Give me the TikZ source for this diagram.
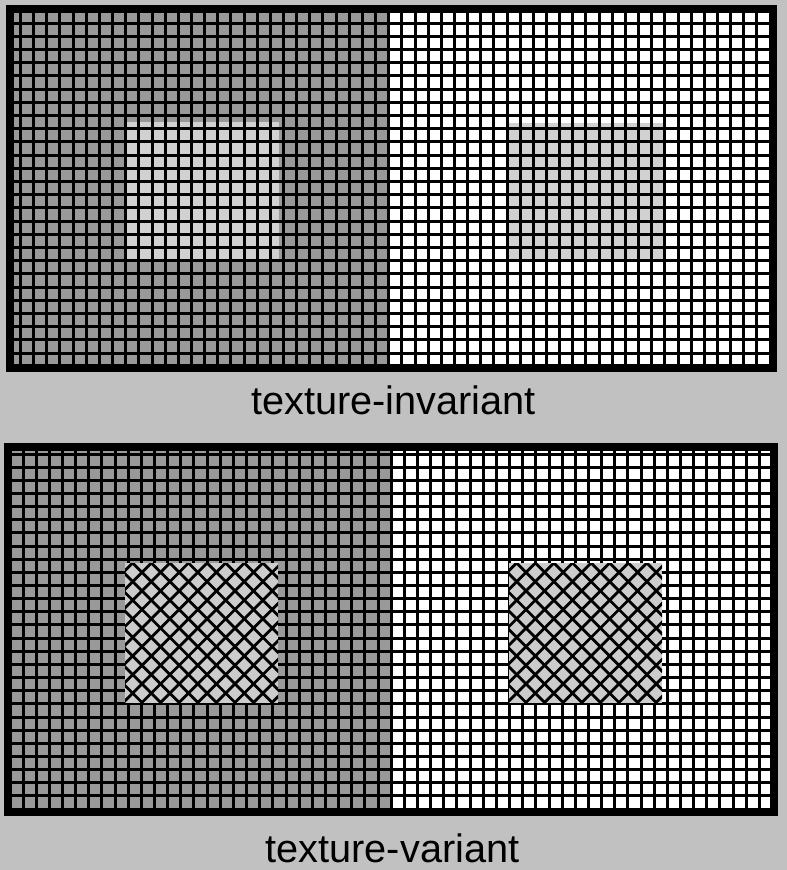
\documentclass[tikz,border=0pt]{standalone}
\usepackage{fontspec}
\setmainfont{Liberation Sans}
\definecolor{bg}{gray}{0.757}
\definecolor{dark}{gray}{0.6}
\definecolor{light}{gray}{0.82}
\definecolor{hatchfill}{gray}{0.8}
\begin{document}
\begin{tikzpicture}[x=1pt,y=-1pt,
  gridline/.style={black,line width=3pt},
  hatchline/.style={black,line width=2.8pt},
  frame/.style={black,line width=8pt},
  caption/.style={font=\fontsize{39.7}{46}\selectfont, inner sep=0pt, anchor=base}]
\useasboundingbox (0,0) rectangle (787,870);
\fill[bg] (0,0) rectangle (787,870);

% ---------- top panel ----------
\fill[dark] (10,9) rectangle (389,368);
\fill[white] (389,9) rectangle (773,368);
\fill[light] (127,122) rectangle (279,261);
\fill[light] (508,123) rectangle (663,259);
\begin{scope}
  \clip (10,9) rectangle (773,368);
  \foreach \i in {0,...,56} \draw[gridline] ({20.5+13.15*\i},0) -- ({20.5+13.15*\i},380);
  \foreach \j in {0,...,25} \draw[gridline] (0,{23+13.2*\j}) -- (787,{23+13.2*\j});
\end{scope}
\draw[frame] (10,9) rectangle (773,368);
\node[caption] (topcap) at (393.4,414) {texture-invariant};

% ---------- bottom panel ----------
\fill[dark] (8,447) rectangle (390,812);
\fill[white] (390,447) rectangle (774,812);
\begin{scope}
  \clip (8,447) rectangle (774,812);
  \foreach \i in {0,...,56} \draw[gridline] ({23+13.15*\i},440) -- ({23+13.15*\i},820);
  \foreach \j in {0,...,26} \draw[gridline] (0,{454+13.15*\j}) -- (787,{454+13.15*\j});
\end{scope}
% crosshatched squares
\foreach \xa/\xb in {125/278, 509/662} {
  \fill[hatchfill] (\xa,563) rectangle (\xb,703);
  \begin{scope}
    \clip (\xa,563) rectangle (\xb,703);
    \foreach \k in {-9,...,17} {
      \draw[hatchline] ({\xa+7.7+18.6*\k},563) -- ++(140,140);
      \draw[hatchline] ({\xa+7.7+18.6*\k},563) -- ++(-140,140);
    }
  \end{scope}
}
\draw[frame] (8,447) rectangle (774,812);
\node[caption] (botcap) at (392.5,862.7) {texture-variant};
\end{tikzpicture}
\end{document}
